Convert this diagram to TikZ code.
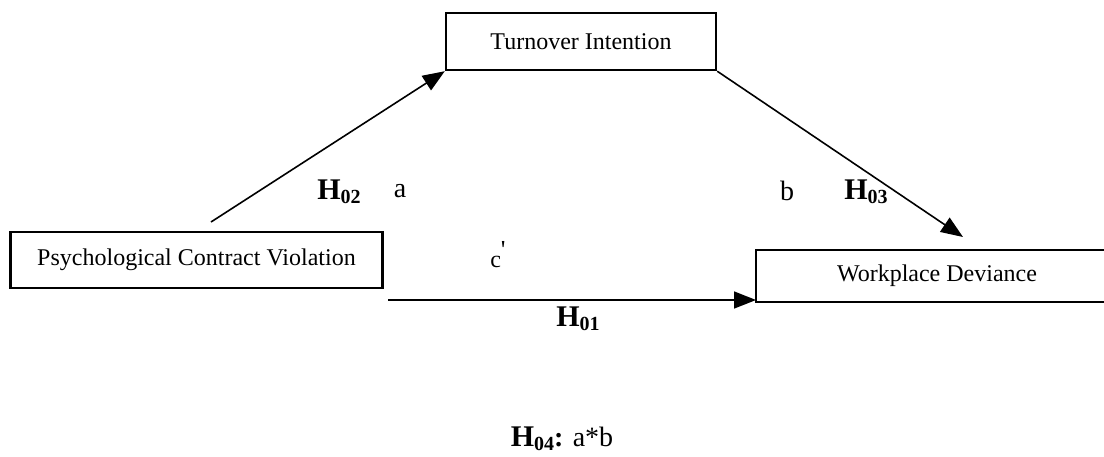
\documentclass[tikz,border=0pt]{standalone}
\usepackage{fontspec}
\setmainfont{Liberation Serif}
\usetikzlibrary{arrows.meta}
\newcommand{\hyplabel}[1]{\textbf{\fontsize{15}{17}\selectfont H\raisebox{-0.3ex}{\fontsize{10}{12}\selectfont #1}}}
\tikzset{
	varbox/.style={draw, line width=1.2pt, inner sep=0pt, font=\fontsize{12}{14}\selectfont},
	path arrow/.style={line width=0.8pt, -{Triangle[length=11pt, width=8.5pt]}},
	coef/.style={inner sep=0pt, font=\fontsize{14}{16}\selectfont}
}

\begin{document}
\begin{tikzpicture}[x=0.5pt, y=-0.5pt]
			%%%%% START %%%%%
			
			\path[use as bounding box, clip] (0, 0) rectangle (1104, 456);
			
			\node[varbox, minimum width=186pt, minimum height=28pt] (pcv) at (196.5, 260) {Psychological Contract Violation};
			\node[varbox, minimum width=135pt, minimum height=28.5pt] (ti) at (581, 41.5) {Turnover Intention};
			\node[varbox, minimum width=181pt, minimum height=26pt] (wd) at (937, 276) {Workplace Deviance};
			
			\coordinate (aStart) at (211, 222);
			\coordinate (bEnd) at (963, 237);
			\coordinate (cStart) at (388, 300);
			\coordinate (cEnd) at (756, 300);
			
			\draw[path arrow] (aStart) -- (ti.south west);
			\draw[path arrow] (ti.south east) -- (bEnd);
			\draw[path arrow] (cStart) -- (cEnd);
			
			\node[coef] (hA) at (339, 192) {\hyplabel{02}};
			\node[coef] (lA) at (400, 191) {a};
			\node[coef] (lB) at (787, 191) {b};
			\node[coef] (hB) at (866, 192) {\hyplabel{03}};
			\node[coef, font=\fontsize{12}{14}\selectfont] (lC) at (498, 255) {c\raisebox{0.8ex}{\fontsize{13}{15}\selectfont\textquotesingle}};
			\node[coef] (hC) at (578, 319) {\hyplabel{01}};
			
			\node[coef] (hInd) at (562, 439) {\hyplabel{04}\textbf{:} a*b};
			
			%%%%% END %%%%%
		\end{tikzpicture}
\end{document}
